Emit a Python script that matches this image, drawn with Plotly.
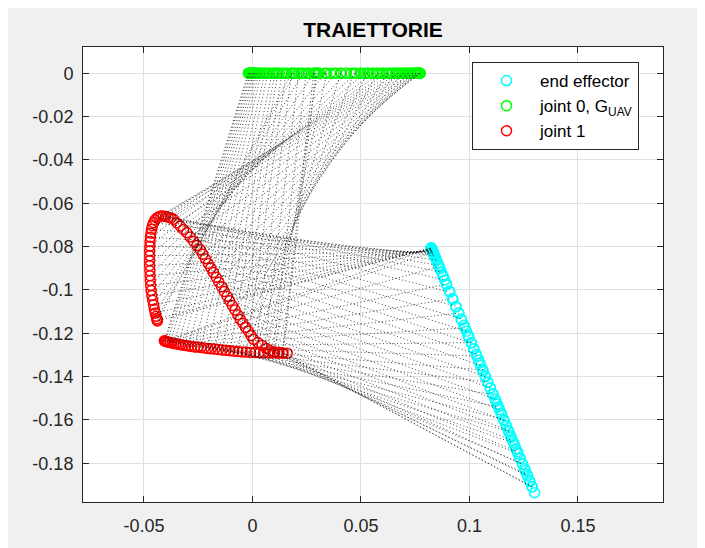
import plotly.graph_objects as go

# ---------------- data ----------------
# Outward motion (end effector from top to bottom of its segment)
j1_x_out = [-0.0438, -0.0439, -0.0441, -0.0444, -0.0448, -0.0452, -0.0456, -0.0460, -0.0464, -0.0467,
            -0.0469, -0.0471, -0.0472, -0.0473, -0.0474, -0.0474, -0.0474, -0.0474, -0.0473, -0.0472,
            -0.0470, -0.0468, -0.0465, -0.0461, -0.0456, -0.0449, -0.0441, -0.0432, -0.0422, -0.0411,
            -0.0400, -0.0388, -0.0376, -0.0364, -0.0349, -0.0333, -0.0318, -0.0302, -0.0287, -0.0272,
            -0.0256, -0.0241, -0.0229, -0.0217, -0.0204, -0.0192, -0.0180, -0.0167, -0.0155, -0.0142,
            -0.0130, -0.0117, -0.0105, -0.0093, -0.0080, -0.0068, -0.0056, -0.0044, -0.0032, -0.0019,
            -0.0007, 0.0005, 0.0025, 0.0044, 0.0064, 0.0083, 0.0102, 0.0122, 0.0141, 0.0160]
j1_y_out = [-0.1143, -0.1140, -0.1133, -0.1122, -0.1107, -0.1089, -0.1069, -0.1048, -0.1026, -0.1003,
            -0.0980, -0.0957, -0.0934, -0.0911, -0.0888, -0.0865, -0.0842, -0.0820, -0.0798, -0.0777,
            -0.0757, -0.0738, -0.0720, -0.0704, -0.0690, -0.0677, -0.0668, -0.0662, -0.0659, -0.0659,
            -0.0661, -0.0664, -0.0668, -0.0674, -0.0690, -0.0705, -0.0721, -0.0736, -0.0756, -0.0775,
            -0.0795, -0.0814, -0.0835, -0.0856, -0.0878, -0.0899, -0.0920, -0.0942, -0.0964, -0.0985,
            -0.1007, -0.1029, -0.1050, -0.1072, -0.1093, -0.1115, -0.1136, -0.1154, -0.1173, -0.1191,
            -0.1210, -0.1228, -0.1243, -0.1257, -0.1270, -0.1281, -0.1286, -0.1289, -0.1291, -0.1292]
j0_x_out = [0.0181, 0.0186, 0.0196, 0.0213, 0.0234, 0.0258, 0.0284, 0.0309, 0.0334, 0.0360,
            0.0385, 0.0409, 0.0432, 0.0454, 0.0475, 0.0496, 0.0516, 0.0535, 0.0553, 0.0570,
            0.0587, 0.0602, 0.0617, 0.0632, 0.0646, 0.0661, 0.0674, 0.0687, 0.0699, 0.0710,
            0.0719, 0.0730, 0.0739, 0.0748, 0.0753, 0.0759, 0.0764, 0.0770, 0.0771, 0.0772,
            0.0773, 0.0773, 0.0767, 0.0761, 0.0755, 0.0747, 0.0738, 0.0729, 0.0717, 0.0706,
            0.0692, 0.0677, 0.0661, 0.0642, 0.0624, 0.0600, 0.0576, 0.0555, 0.0528, 0.0502,
            0.0468, 0.0432, 0.0406, 0.0376, 0.0342, 0.0304, 0.0298, 0.0294, 0.0292, 0.0290]
ee_x_out = [0.0824, 0.0824, 0.0824, 0.0824, 0.0825, 0.0825, 0.0826, 0.0826, 0.0827, 0.0827,
            0.0828, 0.0828, 0.0829, 0.0829, 0.0830, 0.0830, 0.0831, 0.0831, 0.0832, 0.0833,
            0.0834, 0.0834, 0.0836, 0.0837, 0.0839, 0.0843, 0.0848, 0.0853, 0.0858, 0.0864,
            0.0871, 0.0878, 0.0886, 0.0895, 0.0910, 0.0924, 0.0937, 0.0950, 0.0962, 0.0974,
            0.0986, 0.0998, 0.1009, 0.1020, 0.1031, 0.1042, 0.1052, 0.1063, 0.1074, 0.1085,
            0.1096, 0.1107, 0.1118, 0.1128, 0.1139, 0.1149, 0.1160, 0.1169, 0.1179, 0.1189,
            0.1199, 0.1208, 0.1221, 0.1233, 0.1245, 0.1257, 0.1268, 0.1279, 0.1289, 0.1300]
ee_y_out = [-0.0807, -0.0807, -0.0807, -0.0808, -0.0809, -0.0810, -0.0812, -0.0813, -0.0814, -0.0815,
            -0.0816, -0.0817, -0.0818, -0.0819, -0.0821, -0.0822, -0.0823, -0.0824, -0.0825, -0.0827,
            -0.0830, -0.0832, -0.0835, -0.0839, -0.0843, -0.0852, -0.0863, -0.0875, -0.0887, -0.0902,
            -0.0918, -0.0935, -0.0954, -0.0976, -0.1010, -0.1044, -0.1076, -0.1106, -0.1134, -0.1163,
            -0.1191, -0.1219, -0.1245, -0.1271, -0.1297, -0.1323, -0.1349, -0.1375, -0.1401, -0.1427,
            -0.1453, -0.1479, -0.1504, -0.1528, -0.1553, -0.1578, -0.1603, -0.1626, -0.1649, -0.1672,
            -0.1696, -0.1718, -0.1747, -0.1777, -0.1805, -0.1834, -0.1859, -0.1885, -0.1910, -0.1936]

# Return motion (end effector back up its segment)
j1_x_back = [0.0138, 0.0116, 0.0094, 0.0073, 0.0052, 0.0031, 0.0011, -0.0009, -0.0029, -0.0048,
             -0.0067, -0.0086, -0.0104, -0.0122, -0.0140, -0.0157, -0.0174, -0.0191, -0.0207, -0.0223,
             -0.0238, -0.0253, -0.0267, -0.0281, -0.0294, -0.0307, -0.0319, -0.0331, -0.0342, -0.0352,
             -0.0362, -0.0371, -0.0379, -0.0386, -0.0392, -0.0397, -0.0401, -0.0404, -0.0406]
j1_y_back = [-0.1292, -0.1292, -0.1291, -0.1291, -0.1290, -0.1290, -0.1289, -0.1289, -0.1287, -0.1286,
             -0.1284, -0.1283, -0.1281, -0.1279, -0.1277, -0.1275, -0.1273, -0.1272, -0.1270, -0.1268,
             -0.1266, -0.1264, -0.1263, -0.1261, -0.1259, -0.1257, -0.1255, -0.1253, -0.1251, -0.1249,
             -0.1247, -0.1245, -0.1243, -0.1241, -0.1240, -0.1238, -0.1237, -0.1236, -0.1235]
j0_x_back = [0.0282, 0.0260, 0.0247, 0.0226, 0.0213, 0.0192, 0.0180, 0.0160, 0.0154, 0.0142,
             0.0136, 0.0124, 0.0117, 0.0111, 0.0104, 0.0097, 0.0090, 0.0077, 0.0071, 0.0064,
             0.0057, 0.0051, 0.0041, 0.0035, 0.0030, 0.0025, 0.0020, 0.0015, 0.0012, 0.0009,
             0.0005, 0.0002, -0.0001, -0.0004, -0.0008, -0.0012, -0.0015, -0.0018, -0.0019]
ee_x_back = [0.1288, 0.1276, 0.1265, 0.1254, 0.1244, 0.1233, 0.1224, 0.1214, 0.1203, 0.1192,
             0.1182, 0.1170, 0.1158, 0.1145, 0.1133, 0.1122, 0.1109, 0.1096, 0.1084, 0.1072,
             0.1061, 0.1047, 0.1034, 0.1020, 0.1008, 0.0994, 0.0979, 0.0964, 0.0951, 0.0938,
             0.0922, 0.0907, 0.0894, 0.0879, 0.0860, 0.0844, 0.0832, 0.0826, 0.0824]
ee_y_back = [-0.1908, -0.1880, -0.1852, -0.1826, -0.1803, -0.1778, -0.1755, -0.1733, -0.1706, -0.1680,
             -0.1655, -0.1627, -0.1598, -0.1569, -0.1540, -0.1513, -0.1483, -0.1453, -0.1425, -0.1396,
             -0.1369, -0.1337, -0.1305, -0.1272, -0.1243, -0.1210, -0.1175, -0.1140, -0.1107, -0.1078,
             -0.1040, -0.1005, -0.0973, -0.0938, -0.0892, -0.0853, -0.0825, -0.0812, -0.0807]

x_ticks = [-0.05, 0, 0.05, 0.1, 0.15]
x_labels = ["-0.05", "0", "0.05", "0.1", "0.15"]
y_ticks = [0, -0.02, -0.04, -0.06, -0.08, -0.1, -0.12, -0.14, -0.16, -0.18]
y_labels = ["0", "-0.02", "-0.04", "-0.06", "-0.08", "-0.1", "-0.12", "-0.14", "-0.16", "-0.18"]
series_names = ["end effector", "joint 0, G<sub>UAV</sub>", "joint 1"]

# ---------------- assemble ----------------
ee_x = ee_x_out + ee_x_back
ee_y = ee_y_out + ee_y_back
j0_x = j0_x_out + j0_x_back
j0_y = [0.0] * len(j0_x)          # joint 0 stays on the line y = 0
j1_x = j1_x_out + j1_x_back
j1_y = j1_y_out + j1_y_back

# arm links (joint 0 -> joint 1 -> end effector), drawn for every other sample
link_x, link_y = [], []
for k in range(0, len(j0_x), 2):
    link_x += [j0_x[k], j1_x[k], ee_x[k], None]
    link_y += [j0_y[k], j1_y[k], ee_y[k], None]

FONT = "Liberation Sans, Arial, Helvetica, sans-serif"
AX = "#262626"

fig = go.Figure()
marker_style = dict(symbol="circle-open", size=10)
fig.add_trace(go.Scatter(x=ee_x, y=ee_y, mode="markers", name=series_names[0],
                         marker=dict(color="#00ffff", line=dict(width=1.5), **marker_style)))
fig.add_trace(go.Scatter(x=j0_x, y=j0_y, mode="markers", name=series_names[1],
                         marker=dict(color="#00ff00", line=dict(width=1.5), **marker_style)))
fig.add_trace(go.Scatter(x=j1_x, y=j1_y, mode="markers", name=series_names[2],
                         marker=dict(color="#ff0000", line=dict(width=1.5), **marker_style)))
fig.add_trace(go.Scatter(x=link_x, y=link_y, mode="lines", showlegend=False, hoverinfo="skip",
                         opacity=0.9,
                         line=dict(color="black", width=0.8, dash="1px,2.5px")))

axis_common = dict(showgrid=True, gridcolor="#e0e0e0", gridwidth=1, zeroline=False,
                   showline=True, linecolor=AX, linewidth=1, mirror="ticks",
                   ticks="inside", ticklen=6, tickcolor=AX, tickwidth=1,
                   tickfont=dict(family=FONT, size=18, color=AX))

fig.update_layout(
    width=697, height=540,
    margin=dict(l=75, r=42, t=39, b=46),
    paper_bgcolor="#f0f0f0", plot_bgcolor="white",
    font=dict(family=FONT, color=AX),
    title=dict(text="<b>TRAIETTORIE</b>", x=0.5, xref="paper", xanchor="center",
               y=1 - 22 / 540, yanchor="middle", font=dict(family=FONT, size=21, color="black")),
    xaxis=dict(range=[-0.0781, 0.1892], tickvals=x_ticks, ticktext=x_labels,
               ticklabelstandoff=7, **axis_common),
    yaxis=dict(range=[-0.1979, 0.01214], tickvals=y_ticks, ticktext=y_labels,
               ticklabelstandoff=5, **axis_common),
    legend=dict(x=0.6707, y=0.967, xanchor="left", yanchor="top",
                bgcolor="white", bordercolor=AX, borderwidth=1,
                font=dict(family=FONT, size=17, color="black"), itemwidth=57),
)

fig.write_html("out.html")
